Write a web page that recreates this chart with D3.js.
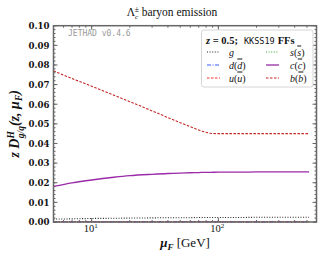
<!DOCTYPE html>
<html>
<head>
<meta charset="utf-8">
<script src="https://cdn.jsdelivr.net/npm/d3@7"></script>
<style>
  body { margin: 0; background: #fff; }
  svg { display: block; }
  text { font-family: "Liberation Serif", "DejaVu Serif", serif; }
</style>
</head>
<body>
<svg></svg>
<script>
// mu_F values (GeV) and series
const muF = [5, 7, 10, 15, 20, 30, 40, 50, 60, 70, 80, 86, 100, 150, 200, 300, 400, 520]
const gVals = [0.0015, 0.0016, 0.0018, 0.0019, 0.0020, 0.0021, 0.0022, 0.0022, 0.0022, 0.0023, 0.0023, 0.0023, 0.0023, 0.0023, 0.0024, 0.0024, 0.0024, 0.0024]
const sVals = [0.0002, 0.0002, 0.0002, 0.0002, 0.0002, 0.0002, 0.0002, 0.0002, 0.0002, 0.0002, 0.0002, 0.0002, 0.0002, 0.0002, 0.0002, 0.0002, 0.0002, 0.0002]
const dVals = [0.0001, 0.0001, 0.0001, 0.0001, 0.0001, 0.0001, 0.0001, 0.0001, 0.0001, 0.0001, 0.0001, 0.0001, 0.0001, 0.0001, 0.0001, 0.0001, 0.0001, 0.0001]
const uVals = [0.0001, 0.0001, 0.0001, 0.0001, 0.0001, 0.0001, 0.0001, 0.0001, 0.0001, 0.0001, 0.0001, 0.0001, 0.0001, 0.0001, 0.0001, 0.0001, 0.0001, 0.0001]
const cVals = [0.0181, 0.0199, 0.0214, 0.0228, 0.0236, 0.0243, 0.0247, 0.0249, 0.0251, 0.0252, 0.0253, 0.0253, 0.0254, 0.0254, 0.0255, 0.0255, 0.0255, 0.0255]
const bVals = [0.0770, 0.0731, 0.0692, 0.0646, 0.0613, 0.0566, 0.0532, 0.0506, 0.0486, 0.0469, 0.0457, 0.0452, 0.0450, 0.0450, 0.0450, 0.0450, 0.0450, 0.0450]

const yTicks = [0, 0.01, 0.02, 0.03, 0.04, 0.05, 0.06, 0.07, 0.08, 0.09, 0.10]
const xTicks = [10, 100]

const series = [
  { key: "g", label: "g", bar: "", values: gVals, color: "#222", dash: "1,1.6", width: 1.1 },
  { key: "s", label: "s", bar: "s", values: sVals, color: "#2e9e2e", dash: "1,1.6", width: 1.1 },
  { key: "d", label: "d", bar: "d", values: dVals, color: "#3a5cff", dash: "4,1.5,1,1.5", width: 1.2 },
  { key: "c", label: "c", bar: "c", values: cVals, color: "#9a2aa8", dash: null, width: 1.3 },
  { key: "u", label: "u", bar: "u", values: uVals, color: "#ff3333", dash: "2.5,1.5", width: 1.1 },
  { key: "b", label: "b", bar: "b", values: bVals, color: "#c62424", dash: "2.5,1.5", width: 1.1 }
]

const width = 322, height = 255
const mLeft = 53.5, mRight = 316.5, mTop = 25.7, mBottom = 222

const svg = d3.select("svg")
  .attr("width", width)
  .attr("height", height)

const x = d3.scaleLog()
  .domain([5, 595])
  .range([mLeft, mRight])

const y = d3.scaleLinear()
  .domain([0, 0.1])
  .range([mBottom, mTop])

const frameColor = "#666"

// minor ticks
const yMinor = d3.range(0, 0.1001, 0.002)
const xMinor = []
;[1, 10, 100].forEach(p => d3.range(1, 10).forEach(k => {
  const v = p * k
  if (v >= 5 && v <= 595) xMinor.push(v)
}))

const ticks = svg.append("g").attr("class", "ticks")
  .attr("stroke", frameColor)

const addTicks = (vals, vertical, pos, len) => {
  ticks.selectAll(null)
    .data(vals)
    .enter()
    .append("line")
    .attr("x1", d => vertical ? pos : x(d))
    .attr("x2", d => vertical ? pos + len : x(d))
    .attr("y1", d => vertical ? y(d) : pos)
    .attr("y2", d => vertical ? y(d) : pos + len)
}
addTicks(yMinor, true, mLeft, 2)
addTicks(yMinor, true, mRight, -2)
addTicks(yTicks, true, mLeft, 4)
addTicks(yTicks, true, mRight, -4)
addTicks(xMinor, false, mBottom, -2)
addTicks(xMinor, false, mTop, 2)
addTicks(xTicks, false, mBottom, -4)
addTicks(xTicks, false, mTop, 4)

// tick labels
svg.append("g")
  .selectAll("text")
  .data(yTicks)
  .enter()
  .append("text")
  .attr("x", mLeft - 4)
  .attr("y", d => y(d) + 3.3)
  .attr("text-anchor", "end")
  .style("font-family", "DejaVu Serif")
  .style("font-weight", "bold")
  .style("font-size", "8.6px")
  .attr("fill", "#111")
  .text(d => d3.format(".2f")(d))

const xLab = svg.append("g")
  .selectAll("text")
  .data(xTicks)
  .enter()
  .append("text")
  .attr("x", d => x(d) - 1)
  .attr("y", 232)
  .attr("text-anchor", "middle")
  .style("font-size", "10.5px")
  .attr("fill", "#111")
xLab.append("tspan").text("10")
xLab.append("tspan")
  .attr("dy", -4)
  .style("font-size", "7px")
  .text(d => Math.round(Math.log10(d)))

// series
const line = d3.line()
  .x((d, i) => x(muF[i]))
  .y(d => y(d))
  .curve(d3.curveMonotoneX)

const plot = svg.append("g").attr("class", "lines")
plot.selectAll("path")
  .data(series)
  .enter()
  .append("path")
  .attr("fill", "none")
  .attr("stroke", d => d.color)
  .attr("stroke-width", d => d.width)
  .attr("stroke-dasharray", d => d.dash)
  .attr("d", d => line(d.values))

// frame
svg.append("rect")
  .attr("x", mLeft)
  .attr("y", mTop)
  .attr("width", mRight - mLeft)
  .attr("height", mBottom - mTop)
  .attr("fill", "none")
  .attr("stroke", frameColor)
  .attr("stroke-width", 1.5)

// watermark
svg.append("text")
  .attr("x", 68)
  .attr("y", 36)
  .style("font-family", "DejaVu Sans Mono")
  .style("font-size", "8px")
  .attr("fill", "#999")
  .text("JETHAD v0.4.6")

// title
const title = svg.append("text")
  .attr("x", 172)
  .attr("y", 16)
  .attr("text-anchor", "middle")
  .style("font-size", "11.5px")
  .attr("fill", "#111")
title.append("tspan").text("Λ")
title.append("tspan").attr("dy", 2.5).style("font-size", "7px").style("font-style", "italic").text("c")
title.append("tspan").attr("dy", -7).attr("dx", -3.5).style("font-size", "7.5px").text("±")
title.append("tspan").attr("dy", 4.5).text(" baryon emission")

// axis labels
const xTitle = svg.append("text")
  .attr("x", 185)
  .attr("y", 247)
  .attr("text-anchor", "middle")
  .style("font-size", "13px")
  .attr("fill", "#111")
xTitle.append("tspan").style("font-weight", "bold").style("font-style", "italic").text("μ")
xTitle.append("tspan").attr("dy", 2.5).style("font-size", "9px").style("font-weight", "bold").style("font-style", "italic").text("F")
xTitle.append("tspan").attr("dy", -2.5).text(" [GeV]")

const yTitle = svg.append("text")
  .attr("transform", "translate(19," + ((mTop + mBottom) / 2) + ") rotate(-90)")
  .attr("text-anchor", "middle")
  .style("font-size", "14px")
  .style("font-weight", "bold")
  .style("font-style", "italic")
  .attr("fill", "#111")
yTitle.append("tspan").text("z D")
yTitle.append("tspan").attr("dy", -5.5).style("font-size", "9.5px").text("H")
yTitle.append("tspan").attr("dy", 10).attr("dx", -7).style("font-size", "9.5px").text("g/q")
yTitle.append("tspan").attr("dy", -4.5).text("(z, μ")
yTitle.append("tspan").attr("dy", 3).style("font-size", "9.5px").text("F")
yTitle.append("tspan").attr("dy", -3).text(")")

// legend
const legend = svg.append("g").attr("class", "legend")
legend.append("rect")
  .attr("x", 201.5)
  .attr("y", 30)
  .attr("width", 111.5)
  .attr("height", 57)
  .attr("rx", 2.5)
  .attr("fill", "#fff")
  .attr("fill-opacity", 0.9)
  .attr("stroke", "#d5d5d5")
  .attr("stroke-width", 1)

const legTitle = legend.append("text")
  .attr("x", 206)
  .attr("y", 43.5)
  .style("font-size", "10.5px")
  .attr("fill", "#111")
legTitle.append("tspan").style("font-weight", "bold").style("font-style", "italic").text("z")
legTitle.append("tspan").style("font-weight", "bold").text(" = 0.5;")
legTitle.append("tspan").attr("dx", 6).style("font-family", "DejaVu Sans Mono").style("font-size", "8.5px").text("KKSS19")
legTitle.append("tspan").attr("dx", 3).style("font-weight", "bold").text("FFs")

const legendOrder = ["g", "d", "u", "s", "c", "b"]
const legendItems = legendOrder.map(k => series.find(s => s.key === k))

const item = legend.selectAll("g.item")
  .data(legendItems)
  .enter()
  .append("g")
  .attr("transform", (d, i) => "translate(" + (i < 3 ? 207 : 266) + "," + (52 + (i % 3) * 13) + ")")

item.append("line")
  .attr("x1", 0).attr("x2", 13)
  .attr("stroke", d => d.color)
  .attr("stroke-width", d => d.width)
  .attr("stroke-dasharray", d => d.dash)

const itemText = item.append("text")
  .attr("x", (d, i) => i < 3 ? 22 : 24)
  .attr("y", 3.5)
  .style("font-size", "10px")
  .style("font-style", "italic")
  .attr("fill", "#111")
itemText.append("tspan").text(d => d.label)
itemText.filter(d => d.bar !== "").append("tspan").style("font-style", "normal").text("(")
itemText.filter(d => d.bar !== "").append("tspan")
  .style("text-decoration", "overline")
  .text(d => d.bar)
itemText.filter(d => d.bar !== "").append("tspan").style("font-style", "normal").text(")")
</script>
</body>
</html>
